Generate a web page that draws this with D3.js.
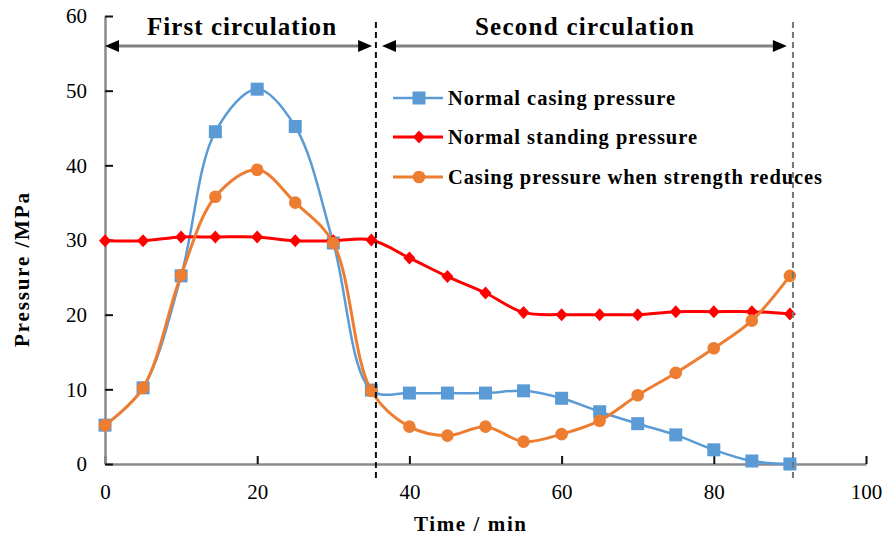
<!DOCTYPE html>
<html>
<head>
<meta charset="utf-8">
<script src="https://cdn.jsdelivr.net/npm/d3@7"></script>
<style>
  body { margin: 0; background: #fff; }
  svg text { font-family: "Liberation Serif", "Times New Roman", serif; }
</style>
</head>
<body>
<svg id="chart" width="890" height="535"></svg>
<script>
// time points (min)
var times = [0, 5, 10, 14.5, 20, 25, 30, 35, 40, 45, 50, 55, 60, 65, 70, 75, 80, 85, 90];

// series values (MPa)
var casingNormal = [5.2, 10.2, 25.2, 44.5, 50.2, 45.2, 29.6, 9.9, 9.5, 9.5, 9.5, 9.8, 8.8, 7.0, 5.4, 3.9, 1.9, 0.4, 0];
var standingNormal = [29.9, 29.9, 30.4, 30.4, 30.4, 29.9, 29.9, 30.0, 27.6, 25.1, 22.9, 20.3, 20.0, 20.0, 20.0, 20.4, 20.4, 20.4, 20.1];
var casingReduced = [5.2, 10.2, 25.3, 35.8, 39.4, 35.0, 29.6, 9.8, 5.0, 3.8, 5.0, 3.0, 4.0, 5.8, 9.2, 12.2, 15.5, 19.2, 25.2];

var seriesNames = ["Normal casing pressure", "Normal standing pressure", "Casing pressure when strength reduces"];

// axis ticks
var xTicks = [0, 20, 40, 60, 80, 100];
var yTicks = [0, 10, 20, 30, 40, 50, 60];

// circulation phases
var phaseLabels = ["First circulation", "Second circulation"];
var phaseStart = [0, 36.4];
var phaseEnd = [35.1, 89.6];
var dividers = [35.6, 90.4];

var svg = d3.select("#chart");

var x = d3.scaleLinear().domain([0, 100]).range([105, 866]);
var y = d3.scaleLinear().domain([0, 60]).range([464, 16]);

//axes
var xAxis = svg.append("g")
    .attr("transform", "translate(0," + y(0) + ")")
    .call(d3.axisBottom(x).tickValues(xTicks).tickSizeInner(-8).tickSizeOuter(0).tickPadding(20));
var yAxis = svg.append("g")
    .attr("transform", "translate(" + x(0) + ",0)")
    .call(d3.axisLeft(y).tickValues(yTicks).tickSizeInner(-8).tickSizeOuter(0).tickPadding(18));

[xAxis, yAxis].forEach(function (ax) {
    ax.select(".domain").attr("stroke", "#8a8a8a").attr("stroke-width", 2.5);
    ax.selectAll(".tick line").attr("stroke", "#111").attr("stroke-width", 2);
    ax.selectAll(".tick text")
        .attr("fill", "#000")
        .style("font-size", "21px")
        .style("font-family", "'Liberation Serif', serif");
});
xAxis.selectAll(".tick text").attr("dy", "0.71em");

//axis titles
svg.append("text")
    .attr("x", 470).attr("y", 531)
    .attr("text-anchor", "middle")
    .attr("textLength", 112).attr("lengthAdjust", "spacing")
    .style("font-size", "21px").style("font-weight", "bold")
    .text("Time / min");

svg.append("text")
    .attr("transform", "translate(29,270)rotate(-90)")
    .attr("text-anchor", "middle")
    .attr("textLength", 154).attr("lengthAdjust", "spacing")
    .style("font-size", "21px").style("font-weight", "bold")
    .text("Pressure /MPa");

//series
var colors = ["#5B9BD5", "#FF0000", "#ED7D31"];
var widths = [2.5, 3, 3];
var allSeries = [casingNormal, standingNormal, casingReduced];

var line = d3.line()
    .x(function (d) { return x(d[0]); })
    .y(function (d) { return y(d[1]); })
    .curve(d3.curveCatmullRom.alpha(0.5));

function drawMarker(g, k, cx, cy) {
    if (k == 0) {
        g.append("rect").attr("x", cx - 6.5).attr("y", cy - 6.5)
            .attr("width", 13).attr("height", 13).attr("fill", colors[k]);
    } else if (k == 1) {
        g.append("path")
            .attr("d", "M" + cx + "," + (cy - 6.5) + "L" + (cx + 6) + "," + cy + "L" + cx + "," + (cy + 6.5) + "L" + (cx - 6) + "," + cy + "Z")
            .attr("fill", colors[k]);
    } else {
        g.append("circle").attr("cx", cx).attr("cy", cy).attr("r", 6.3).attr("fill", colors[k]);
    }
}

for (var k = 0; k < allSeries.length; k++) {
    var pts = times.map(function (t, i) { return [t, allSeries[k][i]]; });
    var g = svg.append("g");
    g.append("path")
        .attr("d", line(pts))
        .attr("fill", "none")
        .attr("stroke", colors[k])
        .attr("stroke-width", widths[k]);
    for (var i = 0; i < pts.length; i++) {
        drawMarker(g, k, x(pts[i][0]), y(pts[i][1]));
    }
}

//dashed dividers
var dividerColors = ["#111", "#777"];
svg.selectAll(".divider")
    .data(dividers)
    .enter().append("line")
    .attr("x1", function (d) { return x(d); })
    .attr("x2", function (d) { return x(d); })
    .attr("y1", 22)
    .attr("y2", 480)
    .attr("stroke", function (d, i) { return dividerColors[i]; })
    .attr("stroke-width", 2)
    .attr("stroke-dasharray", "6,4");

//phase arrows
var arrowY = 46;
var phaseTextLen = [189, 219];
for (var p = 0; p < phaseLabels.length; p++) {
    var x0 = x(phaseStart[p]), x1 = x(phaseEnd[p]);
    svg.append("line")
        .attr("x1", x0 + 8).attr("x2", x1 - 8)
        .attr("y1", arrowY).attr("y2", arrowY)
        .attr("stroke", "#808080").attr("stroke-width", 3);
    svg.append("path")
        .attr("d", "M" + x0 + "," + arrowY + "L" + (x0 + 14) + "," + (arrowY - 6) + "L" + (x0 + 14) + "," + (arrowY + 6) + "Z")
        .attr("fill", "#000");
    svg.append("path")
        .attr("d", "M" + x1 + "," + arrowY + "L" + (x1 - 14) + "," + (arrowY - 6) + "L" + (x1 - 14) + "," + (arrowY + 6) + "Z")
        .attr("fill", "#000");
    svg.append("text")
        .attr("x", (x0 + x1) / 2 + (p == 0 ? 3 : 0))
        .attr("y", 35)
        .attr("text-anchor", "middle")
        .attr("textLength", phaseTextLen[p]).attr("lengthAdjust", "spacing")
        .style("font-size", "25px").style("font-weight", "bold")
        .text(phaseLabels[p]);
}

//legend
var legendY = [98, 137, 177];
var legendLen = [227, 249, 374];
for (var k = 0; k < seriesNames.length; k++) {
    var lg = svg.append("g");
    lg.append("line")
        .attr("x1", 393).attr("x2", 443)
        .attr("y1", legendY[k]).attr("y2", legendY[k])
        .attr("stroke", colors[k]).attr("stroke-width", widths[k]);
    drawMarker(lg, k, 419, legendY[k]);
    lg.append("text")
        .attr("x", 448).attr("y", legendY[k] + 7)
        .attr("textLength", legendLen[k]).attr("lengthAdjust", "spacing")
        .style("font-size", "20.5px").style("font-weight", "bold")
        .text(seriesNames[k]);
}
</script>
</body>
</html>
